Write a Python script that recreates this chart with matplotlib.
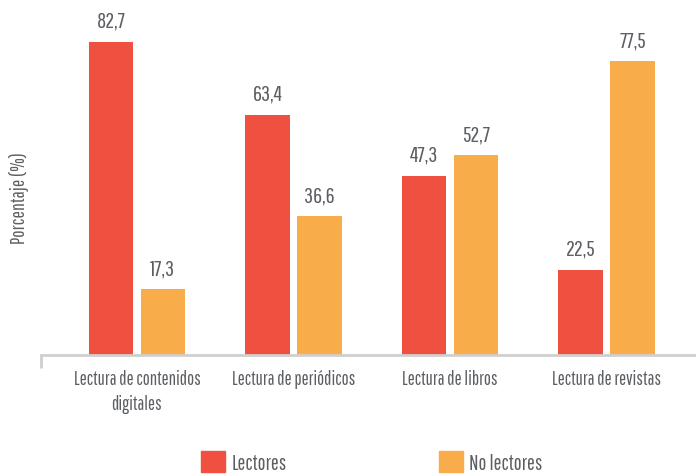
import matplotlib

matplotlib.use("Agg")
import matplotlib.pyplot as plt
import numpy as np
from matplotlib.patches import Patch

categories = [
    "Lectura de contenidos\ndigitales",
    "Lectura de periódicos",
    "Lectura de libros",
    "Lectura de revistas",
]
series_names = ["Lectores", "No lectores"]
lectores = [82.7, 63.4, 47.3, 22.5]
no_lectores = [17.3, 36.6, 52.7, 77.5]

RED = "#EF5040"
ORANGE = "#F9AC4A"
TEXT = "#5b5e62"
AXIS = "#cfcfcf"

plt.rcParams["font.family"] = ["Pathway Gothic One", "DejaVu Sans"]

fig = plt.figure(figsize=(6.96, 4.77), dpi=100)
ax = fig.add_axes([41 / 696, 121 / 477, 655 / 696, 356 / 477])

x = np.arange(len(categories))
width = 0.285
offset = 0.166

bars_l = ax.bar(x - offset, lectores, width, color=RED)
bars_n = ax.bar(x + offset, no_lectores, width, color=ORANGE)

fmt = lambda v: f"{v:.1f}".replace(".", ",")
for bars, vals in ((bars_l, lectores), (bars_n, no_lectores)):
    ax.bar_label(bars, labels=[fmt(v) for v in vals], padding=8,
                 fontsize=16, color=TEXT)

xmin = -0.613
ax.set_xlim(xmin, 3.572)
ax.set_ylim(0, 94)

for side in ("top", "right", "left"):
    ax.spines[side].set_visible(False)
ax.spines["bottom"].set_color(AXIS)
ax.spines["bottom"].set_linewidth(2)

ax.set_yticks([])
ax.set_xticks(x)
ax.set_xticklabels(categories, fontsize=13.5, color=TEXT, linespacing=1.4)
ax.tick_params(axis="x", which="major", length=0, pad=10)
ax.set_xticks([xmin], minor=True)
ax.tick_params(axis="x", which="minor", length=9, width=2, color=AXIS)

ax.set_ylabel("Porcentaje (%)", fontsize=14, color=TEXT)
ax.yaxis.set_label_coords(-0.018, 0.444)

handles = [Patch(color=RED), Patch(color=ORANGE)]
fig.legend(handles, series_names, loc="center", ncol=2,
           bbox_to_anchor=(372 / 696, 14 / 477), frameon=False,
           fontsize=15, labelcolor=TEXT, handlelength=1.15, handleheight=1.15,
           handletextpad=0.3, columnspacing=7.3, borderpad=0)

fig.savefig("out.png", dpi=100)
